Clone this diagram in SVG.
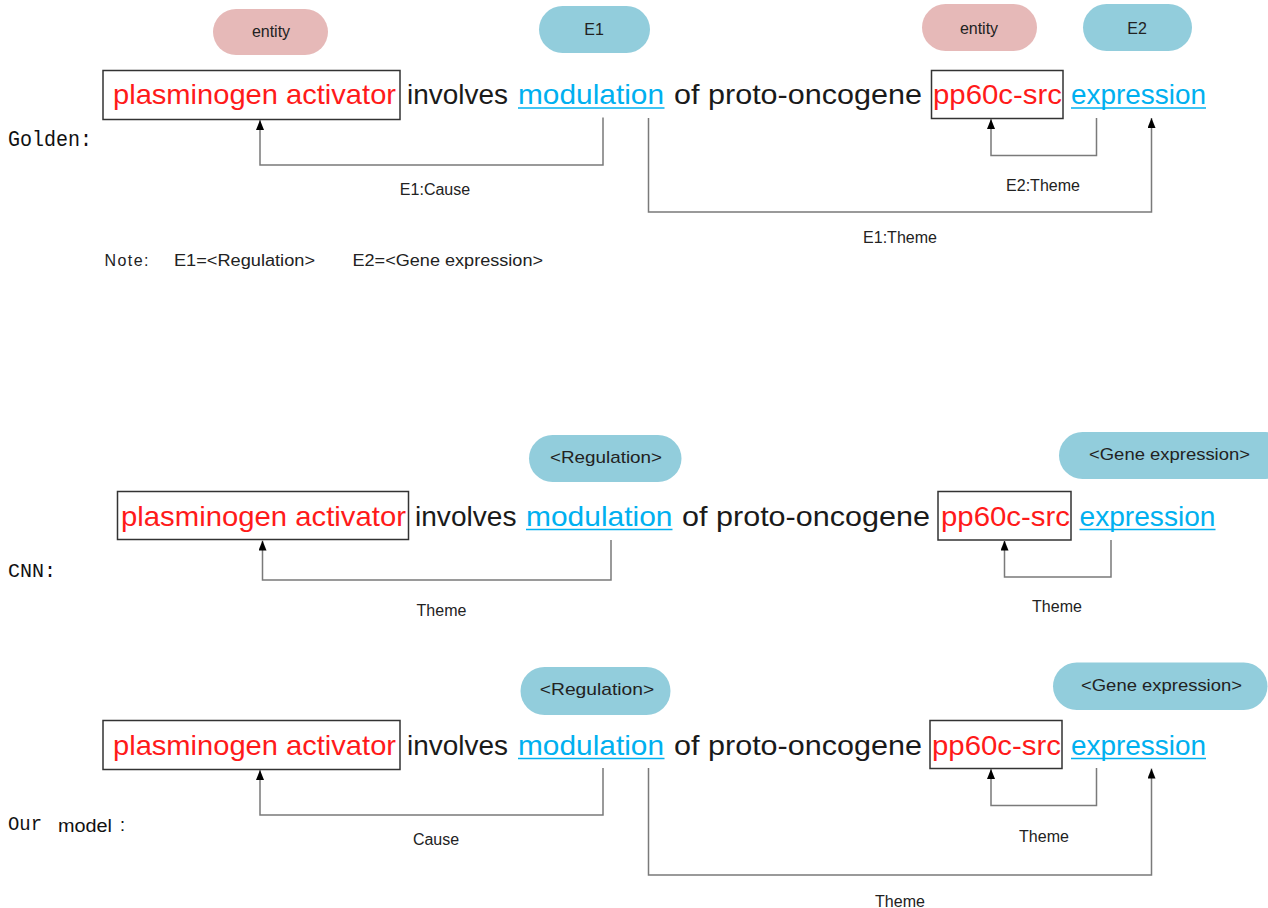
<svg xmlns="http://www.w3.org/2000/svg" width="1268" height="908" viewBox="0 0 1268 908">
<style>
.w{font-family:"Liberation Sans",Arial,sans-serif;font-size:28px}
.red{fill:#ff1a1a}
.blue{fill:#00b0f0}
.blk{fill:#1a1a1a}
.ul{stroke:#00b0f0;stroke-width:1.5}
.box{fill:none;stroke:#333;stroke-width:1.5}
.pb{fill:#92cddc}
.pp{fill:#e6b9b8}
.pt{font-family:"Liberation Sans",Arial,sans-serif;font-size:16px;fill:#222;text-anchor:middle}
.lbl{font-family:"Liberation Sans",Arial,sans-serif;font-size:16px;fill:#222;text-anchor:middle}
.side{font-family:"Liberation Mono","DejaVu Sans Mono",monospace;font-size:22px;fill:#111}
.conn{fill:none;stroke:#7a7a7a;stroke-width:1.5;marker-end:url(#ah)}
</style>
<defs>
<marker id="ah" viewBox="0 0 10 8" refX="10" refY="4" markerWidth="10" markerHeight="8" markerUnits="userSpaceOnUse" orient="auto">
<path d="M0,0 L10,4 L0,8 z" fill="#000"/>
</marker>
</defs>
<rect width="1268" height="908" fill="#fff"/>

<!-- Golden -->
<g id="golden-label"><text class="side" x="8" y="146" textLength="84" lengthAdjust="spacingAndGlyphs">Golden:</text></g>
<g id="g-pill-entity1"><rect class="pp" x="213" y="9" width="115" height="46" rx="23"/><text class="pt" x="271" y="37">entity</text></g>
<g id="g-pill-E1"><rect class="pb" x="539" y="6" width="111" height="47" rx="23.5"/><text class="pt" x="594" y="35">E1</text></g>
<g id="g-pill-entity2"><rect class="pp" x="922" y="4" width="115" height="47" rx="23.5"/><text class="pt" x="979" y="34">entity</text></g>
<g id="g-pill-E2"><rect class="pb" x="1083" y="4" width="109" height="47" rx="23.5"/><text class="pt" x="1137" y="34">E2</text></g>
<g id="g-plasminogen"><rect class="box" x="103" y="70.5" width="297" height="49"/><text class="w red" x="113" y="104" textLength="283" lengthAdjust="spacingAndGlyphs">plasminogen activator</text></g>
<g id="g-involves"><text class="w blk" x="407" y="104" textLength="101" lengthAdjust="spacingAndGlyphs">involves</text></g>
<g id="g-modulation"><text class="w blue" x="518" y="104" textLength="146" lengthAdjust="spacingAndGlyphs">modulation</text><line class="ul" x1="518" y1="108" x2="664.5" y2="108"/></g>
<g id="g-proto"><text class="w blk" x="674" y="104" textLength="248" lengthAdjust="spacingAndGlyphs">of proto-oncogene</text></g>
<g id="g-pp60"><rect class="box" x="931.5" y="70.5" width="131.5" height="48"/><text class="w red" x="933" y="104" textLength="129" lengthAdjust="spacingAndGlyphs">pp60c-src</text></g>
<g id="g-expression"><text class="w blue" x="1071" y="104" textLength="135" lengthAdjust="spacingAndGlyphs">expression</text><line class="ul" x1="1071" y1="108" x2="1206" y2="108"/></g>
<g id="g-labels">
<text class="lbl" x="435" y="195">E1:Cause</text>
<text class="lbl" x="1043" y="190.5">E2:Theme</text>
<text class="lbl" x="900" y="242.5">E1:Theme</text>
</g>
<g id="note">
<text class="lbl" x="104.5" y="266" style="text-anchor:start" textLength="44">Note:</text>
<text class="lbl" x="174" y="266" style="text-anchor:start" textLength="141" lengthAdjust="spacingAndGlyphs">E1=&lt;Regulation&gt;</text>
<text class="lbl" x="352.5" y="266" style="text-anchor:start" textLength="190.5" lengthAdjust="spacingAndGlyphs">E2=&lt;Gene expression&gt;</text>
</g>

<!-- CNN -->
<g id="cnn-label"><text class="side" x="8" y="577" style="font-size:21px" textLength="48" lengthAdjust="spacingAndGlyphs">CNN:</text></g>
<g id="c-pill-reg"><rect class="pb" x="529" y="435" width="152.5" height="47" rx="23.5"/><text class="pt" x="606" y="462.5" style="font-size:17px" textLength="112" lengthAdjust="spacingAndGlyphs">&lt;Regulation&gt;</text></g>
<g id="c-pill-gene"><rect class="pb" x="1059" y="432" width="230" height="47" rx="23.5"/><text class="pt" x="1169.5" y="460" style="font-size:17px" textLength="161" lengthAdjust="spacingAndGlyphs">&lt;Gene expression&gt;</text></g>
<g id="c-plasminogen"><rect class="box" x="117.5" y="491.5" width="291" height="48"/><text class="w red" x="121" y="525.5" textLength="285" lengthAdjust="spacingAndGlyphs">plasminogen activator</text></g>
<g id="c-involves"><text class="w blk" x="415" y="525.5" textLength="101.5" lengthAdjust="spacingAndGlyphs">involves</text></g>
<g id="c-modulation"><text class="w blue" x="526" y="525.5" textLength="146.5" lengthAdjust="spacingAndGlyphs">modulation</text><line class="ul" x1="526" y1="529.5" x2="672.5" y2="529.5"/></g>
<g id="c-proto"><text class="w blk" x="682" y="525.5" textLength="248" lengthAdjust="spacingAndGlyphs">of proto-oncogene</text></g>
<g id="c-pp60"><rect class="box" x="938" y="491.5" width="133" height="48.5"/><text class="w red" x="941" y="525.5" textLength="129" lengthAdjust="spacingAndGlyphs">pp60c-src</text></g>
<g id="c-expression"><text class="w blue" x="1079.5" y="525.5" textLength="136" lengthAdjust="spacingAndGlyphs">expression</text><line class="ul" x1="1079.5" y1="529.5" x2="1215.5" y2="529.5"/></g>
<g id="c-labels">
<text class="lbl" x="441.5" y="616">Theme</text>
<text class="lbl" x="1057" y="612">Theme</text>
</g>

<!-- Our model -->
<g id="our-label">
<text class="side" x="8" y="830" style="font-size:20px" textLength="34" lengthAdjust="spacingAndGlyphs">Our</text>
<text x="58" y="832" style="font-family:'Liberation Sans',Arial,sans-serif;font-size:18px;fill:#111" textLength="54" lengthAdjust="spacingAndGlyphs">model</text>
<text x="120" y="831" style="font-family:'Liberation Sans',Arial,sans-serif;font-size:18px;fill:#111">:</text>
</g>
<g id="o-pill-reg"><rect class="pb" x="520.5" y="667" width="150" height="48" rx="24"/><text class="pt" x="597" y="695" style="font-size:17px" textLength="114.5" lengthAdjust="spacingAndGlyphs">&lt;Regulation&gt;</text></g>
<g id="o-pill-gene"><rect class="pb" x="1053" y="662.5" width="214.5" height="47.5" rx="23.75"/><text class="pt" x="1161.5" y="691" style="font-size:17px" textLength="161" lengthAdjust="spacingAndGlyphs">&lt;Gene expression&gt;</text></g>
<g id="o-plasminogen"><rect class="box" x="103" y="720.5" width="297" height="49"/><text class="w red" x="113" y="754.5" textLength="283" lengthAdjust="spacingAndGlyphs">plasminogen activator</text></g>
<g id="o-involves"><text class="w blk" x="407" y="754.5" textLength="101" lengthAdjust="spacingAndGlyphs">involves</text></g>
<g id="o-modulation"><text class="w blue" x="518" y="754.5" textLength="146" lengthAdjust="spacingAndGlyphs">modulation</text><line class="ul" x1="518" y1="758.5" x2="664.5" y2="758.5"/></g>
<g id="o-proto"><text class="w blk" x="674" y="754.5" textLength="248" lengthAdjust="spacingAndGlyphs">of proto-oncogene</text></g>
<g id="o-pp60"><rect class="box" x="930" y="720.5" width="132" height="48"/><text class="w red" x="932" y="754.5" textLength="129" lengthAdjust="spacingAndGlyphs">pp60c-src</text></g>
<g id="o-expression"><text class="w blue" x="1071" y="754.5" textLength="135" lengthAdjust="spacingAndGlyphs">expression</text><line class="ul" x1="1071" y1="758.5" x2="1206" y2="758.5"/></g>
<g id="o-labels">
<text class="lbl" x="436" y="845">Cause</text>
<text class="lbl" x="1044" y="842">Theme</text>
<text class="lbl" x="900" y="907">Theme</text>
</g>

<g id="connectors">
<path class="conn" d="M603,117.5 V165 H260 V120"/>
<path class="conn" d="M1096.5,118 V155.5 H991 V119"/>
<path class="conn" d="M648.5,118 V212 H1151.5 V118"/>
<path class="conn" d="M611,540 V580 H262.5 V540.5"/>
<path class="conn" d="M1111,540 V577 H1004.5 V540.5"/>
<path class="conn" d="M603,768 V815 H260 V770"/>
<path class="conn" d="M1096.5,768 V805.5 H991 V769"/>
<path class="conn" d="M648.5,768 V875 H1151.5 V768.5"/>
</g>
</svg>
